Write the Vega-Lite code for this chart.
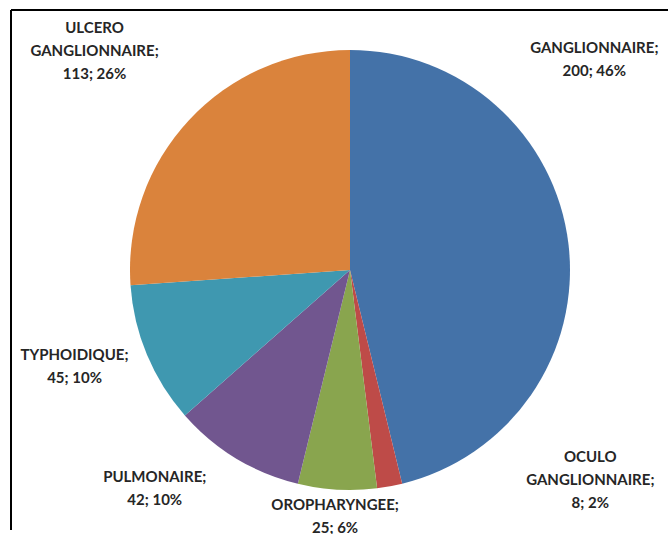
{
  "$schema": "https://vega.github.io/schema/vega-lite/v6.json",
  "width": 678,
  "height": 520,
  "autosize": {"type": "none"},
  "padding": {"left": 11, "top": 10, "right": -21, "bottom": 4},
  "background": "white",
  "config": {
    "view": {"stroke": null},
    "text": {"font": "Lato", "fontWeight": "bold", "fontSize": 15, "lineHeight": 23, "color": "#262626", "align": "center", "baseline": "middle", "lineBreak": "\n"}
  },
  "data": {
    "values": [
      {"categorie": "GANGLIONNAIRE", "effectif": 200, "etiquette": "GANGLIONNAIRE;\n200; 46%"},
      {"categorie": "OCULO GANGLIONNAIRE", "effectif": 8, "etiquette": "OCULO\nGANGLIONNAIRE;\n8; 2%"},
      {"categorie": "OROPHARYNGEE", "effectif": 25, "etiquette": "OROPHARYNGEE;\n25; 6%"},
      {"categorie": "PULMONAIRE", "effectif": 42, "etiquette": "PULMONAIRE;\n42; 10%"},
      {"categorie": "TYPHOIDIQUE", "effectif": 45, "etiquette": "TYPHOIDIQUE;\n45; 10%"},
      {"categorie": "ULCERO GANGLIONNAIRE", "effectif": 113, "etiquette": "ULCERO\nGANGLIONNAIRE;\n113; 26%"}
    ]
  },
  "layer": [
    {
      "data": {"values": [{"cadre": "cadre"}]},
      "mark": {"type": "rect", "fill": null, "stroke": "#000000", "strokeWidth": 2, "strokeDash": [1198, 678, 520, 0]},
      "encoding": {}
    },
    {
      "mark": {"type": "arc", "outerRadius": 220},
      "encoding": {
        "theta": {"field": "effectif", "type": "quantitative", "stack": true},
        "order": {"field": "categorie", "type": "ordinal"},
        "color": {
          "field": "categorie",
          "type": "nominal",
          "legend": null,
          "scale": {
            "domain": ["GANGLIONNAIRE", "OCULO GANGLIONNAIRE", "OROPHARYNGEE", "PULMONAIRE", "TYPHOIDIQUE", "ULCERO GANGLIONNAIRE"],
            "range": ["#4472A8", "#BE4B48", "#89A54E", "#71568F", "#3F98B0", "#DA833C"]
          }
        }
      }
    },
    {
      "mark": {"type": "text", "radius": 240, "dx": 6, "dy": -193.5},
      "encoding": {
        "theta": {"field": "effectif", "type": "quantitative", "stack": true},
        "order": {"field": "categorie", "type": "ordinal"},
        "text": {"condition": {"test": "datum.categorie === 'GANGLIONNAIRE'", "field": "etiquette", "type": "nominal"}, "value": ""}
      }
    },
    {
      "mark": {"type": "text", "radius": 240, "dx": 197, "dy": -49},
      "encoding": {
        "theta": {"field": "effectif", "type": "quantitative", "stack": true},
        "order": {"field": "categorie", "type": "ordinal"},
        "text": {"condition": {"test": "datum.categorie === 'OCULO GANGLIONNAIRE'", "field": "etiquette", "type": "nominal"}, "value": ""}
      }
    },
    {
      "mark": {"type": "text", "radius": 240, "dx": -1, "dy": -4.5},
      "encoding": {
        "theta": {"field": "effectif", "type": "quantitative", "stack": true},
        "order": {"field": "categorie", "type": "ordinal"},
        "text": {"condition": {"test": "datum.categorie === 'OROPHARYNGEE'", "field": "etiquette", "type": "nominal"}, "value": ""}
      }
    },
    {
      "mark": {"type": "text", "radius": 240, "dx": -71, "dy": 1.5},
      "encoding": {
        "theta": {"field": "effectif", "type": "quantitative", "stack": true},
        "order": {"field": "categorie", "type": "ordinal"},
        "text": {"condition": {"test": "datum.categorie === 'PULMONAIRE'", "field": "etiquette", "type": "nominal"}, "value": ""}
      }
    },
    {
      "mark": {"type": "text", "radius": 240, "dx": -54, "dy": -7.5},
      "encoding": {
        "theta": {"field": "effectif", "type": "quantitative", "stack": true},
        "order": {"field": "categorie", "type": "ordinal"},
        "text": {"condition": {"test": "datum.categorie === 'TYPHOIDIQUE'", "field": "etiquette", "type": "nominal"}, "value": ""}
      }
    },
    {
      "mark": {"type": "text", "radius": 240, "dx": -80, "dy": -78},
      "encoding": {
        "theta": {"field": "effectif", "type": "quantitative", "stack": true},
        "order": {"field": "categorie", "type": "ordinal"},
        "text": {"condition": {"test": "datum.categorie === 'ULCERO GANGLIONNAIRE'", "field": "etiquette", "type": "nominal"}, "value": ""}
      }
    }
  ]
}
